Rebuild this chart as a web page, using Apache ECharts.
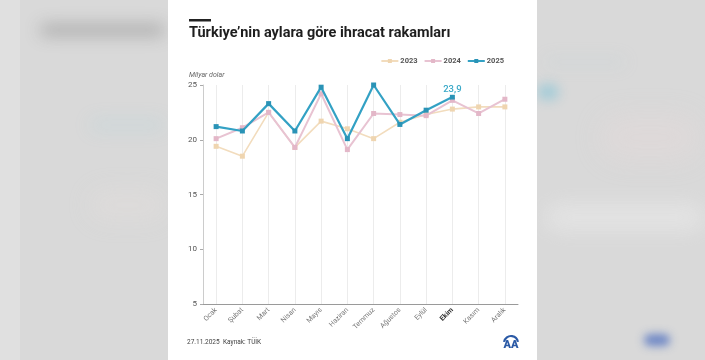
<!DOCTYPE html>
<html><head><meta charset="utf-8">
<script src="https://cdn.jsdelivr.net/npm/echarts@6/dist/echarts.min.js"></script>
<style>html,body{margin:0;padding:0;background:#d9d9d9;}#c{width:705px;height:360px;}</style>
</head><body><div id="c"></div>
<script>
const months = ['Ocak','Şubat','Mart','Nisan','Mayıs','Haziran','Temmuz','Ağustos','Eylül','Ekim','Kasım','Aralık'];
const exports2023 = [19.4, 18.5, 22.5, 19.3, 21.7, 21.0, 20.1, 21.6, 22.3, 22.8, 23.0, 23.0];
const exports2024 = [20.1, 21.1, 22.5, 19.3, 24.2, 19.1, 22.4, 22.3, 22.2, 23.6, 22.4, 23.7];
const exports2025 = [21.2, 20.8, 23.3, 20.8, 24.8, 20.1, 25.0, 21.4, 22.7, 23.9];
const seriesNames = ['2023', '2024', '2025'];
const yTicks = {min: 5, max: 25, interval: 5};

const chart = echarts.init(document.getElementById('c'), null, {renderer: 'canvas'});
const blur = (x, y, w, h, color, b) => ({type: 'rect', silent: true, z: -5,
  shape: {x: x - 2000, y: y, width: w, height: h, r: h / 2},
  style: {fill: color, shadowColor: color, shadowBlur: b, shadowOffsetX: 2000}});

const data2025 = exports2025.map((v, i) => i === exports2025.length - 1
  ? {value: v, label: {show: true, position: 'top', distance: 0, formatter: p => String(p.value).replace('.', ','),
      color: '#3aa9c8', fontSize: 9.5, fontWeight: 500, fontFamily: 'Roboto',
      backgroundColor: '#ffffff', padding: [0, 1, 0, 1]}}
  : v);

chart.setOption({
  backgroundColor: '#d9d9d9',
  animation: false,
  graphic: [
    {type: 'rect', z: -10, silent: true, shape: {x: 0, y: 0, width: 20, height: 360}, style: {fill: '#e0e0e0'}},
    blur(40, 24, 125, 12, 'rgba(100,100,100,0.6)', 16),
    blur(90, 120, 75, 10, 'rgba(140,205,222,0.45)', 18),
    blur(90, 190, 75, 30, 'rgba(236,228,222,0.5)', 22),
    blur(545, 58, 80, 8, 'rgba(180,208,215,0.45)', 16),
    blur(537, 84, 22, 16, 'rgba(110,190,215,0.7)', 12),
    blur(600, 115, 100, 45, 'rgba(238,220,220,0.5)', 26),
    blur(545, 205, 160, 25, 'rgba(240,240,240,0.7)', 22),
    blur(644, 334, 26, 12, 'rgba(70,105,190,0.85)', 8),
    {type: 'rect', z: -1, silent: true, shape: {x: 168, y: 0, width: 369, height: 360}, style: {fill: '#ffffff'}},
    {type: 'rect', silent: true, shape: {x: 189, y: 19, width: 22, height: 2.5}, style: {fill: '#222222'}},
    {type: 'text', silent: true, x: 189, y: 33, style: {text: 'Türkiye’nin aylara göre ihracat rakamları',
      fontFamily: 'Roboto', fontSize: 14.5, fontWeight: 'bold', fill: '#1e1e1e', textVerticalAlign: 'middle'}},
    {type: 'text', silent: true, x: 189, y: 75, style: {text: 'Milyar dolar', fontFamily: 'Roboto', fontSize: 7,
      fontStyle: 'italic', fill: '#666666', textVerticalAlign: 'middle'}},
    {type: 'text', silent: true, x: 187, y: 342, style: {text: '27.11.2025', fontFamily: 'Roboto', fontSize: 6.5,
      fill: '#444444', textVerticalAlign: 'middle'}},
    {type: 'text', silent: true, x: 223, y: 342, style: {text: 'Kaynak: TÜİK', fontFamily: 'Roboto', fontSize: 6.5,
      fill: '#444444', textVerticalAlign: 'middle'}},
    {type: 'arc', silent: true, shape: {cx: 511, cy: 343, r: 7, startAngle: Math.PI * 1.05, endAngle: Math.PI * 1.95},
      style: {stroke: '#2b5aa6', lineWidth: 2.2, fill: 'none'}},
    {type: 'text', silent: true, x: 511, y: 345, style: {text: 'AA', fontFamily: 'Roboto', fontSize: 11, fontWeight: 900,
      fill: '#2b5aa6', align: 'center', textVerticalAlign: 'middle'}}
  ],
  legend: {
    data: seriesNames, right: 196, top: 52, itemWidth: 17, itemHeight: 5, itemGap: 6,
    textStyle: {fontFamily: 'Roboto', fontSize: 7.5, fontWeight: 'bold', color: '#555555', padding: [0, 0, 0, -3]}
  },
  grid: {left: 203, right: 187, top: 85, bottom: 56},
  xAxis: {
    type: 'category', data: months, boundaryGap: true,
    axisLine: {lineStyle: {color: '#9a9a9a', width: 1}},
    axisTick: {show: false},
    splitLine: {show: false},
    axisLabel: {interval: 0, rotate: 45, fontFamily: 'Roboto', fontSize: 7, color: '#777777', margin: 5,
      formatter: v => v === 'Ekim' ? '{b|' + v + '}' : v,
      rich: {b: {fontFamily: 'Roboto', fontSize: 7, fontWeight: 'bold', color: '#333333'}}}
  },
  yAxis: {
    type: 'value', min: yTicks.min, max: yTicks.max, interval: yTicks.interval,
    axisLine: {show: true, lineStyle: {color: '#cccccc'}},
    axisTick: {show: true, length: 3, lineStyle: {color: '#aaaaaa'}},
    splitLine: {show: false},
    axisLabel: {fontFamily: 'Roboto', fontSize: 8, color: '#555555', margin: 6}
  },
  series: [
    {name: 'grid', type: 'line', data: [], silent: true, z: 0,
      markLine: {silent: true, z: 0, symbol: ['none', 'none'], label: {show: false},
        lineStyle: {color: '#ececec', type: 'solid', width: 1},
        data: months.map(m => ({xAxis: m}))}},
    {name: '2023', type: 'line', data: exports2023, z: 6, symbol: 'rect', symbolSize: 5,
      lineStyle: {color: '#f2dcbd', width: 1.6}, itemStyle: {color: '#efd5b0', borderWidth: 0}},
    {name: '2024', type: 'line', data: exports2024, z: 7, symbol: 'rect', symbolSize: 5,
      lineStyle: {color: '#e8c3d2', width: 2}, itemStyle: {color: '#e3b7c8', borderWidth: 0}},
    {name: '2025', type: 'line', data: data2025, z: 8, symbol: 'rect', symbolSize: 5,
      lineStyle: {color: '#33a1c4', width: 2.2}, itemStyle: {color: '#2a93b6', borderWidth: 0}}
  ]
});
</script></body></html>
